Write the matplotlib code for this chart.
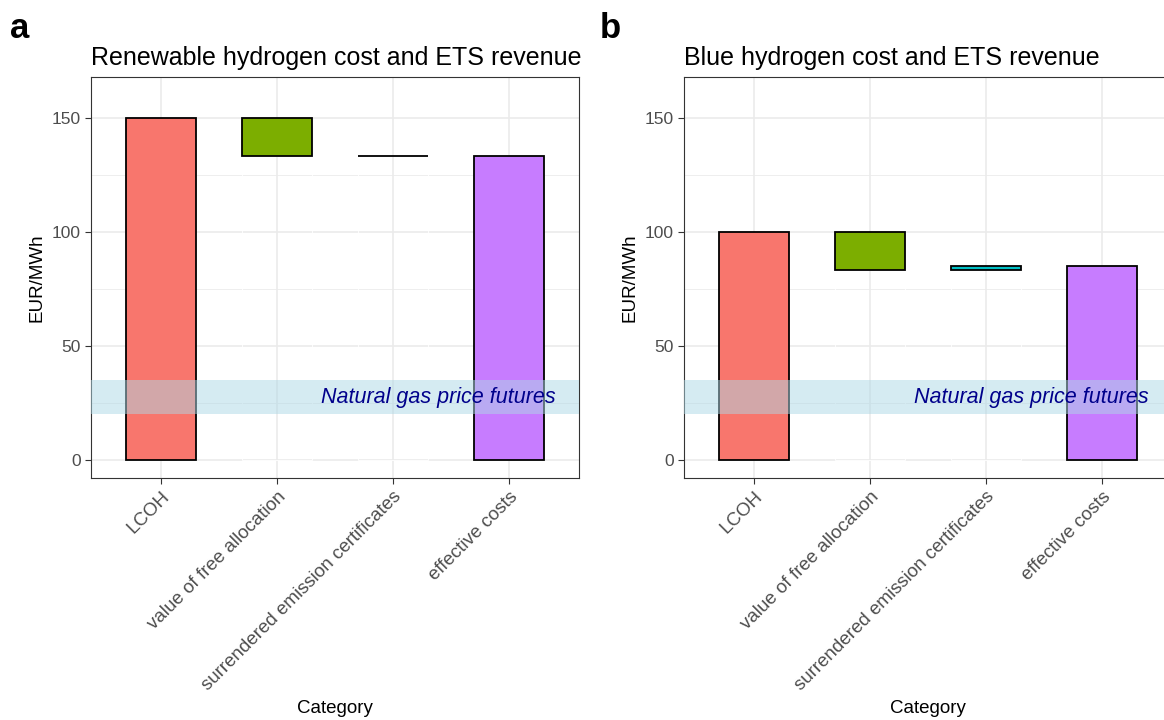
import numpy as np
import matplotlib.pyplot as plt

plt.rcParams['font.family'] = ['Liberation Sans', 'DejaVu Sans']

# waterfall data (EUR/MWh)
categories = ['LCOH', 'value of free allocation', 'surrendered emission certificates', 'effective costs']
colors = ['#F8766D', '#7CAE00', '#00BFC4', '#C77CFF']

renew_start = [0, 133.4, 133.4, 0]
renew_end = [150, 150, 133.4, 133.4]

blue_start = [0, 83.4, 83.4, 0]
blue_end = [100, 100, 85.0, 85.0]

gas_low, gas_high = 20, 35

W, H = 1164, 720
fig = plt.figure(figsize=(W / 100, H / 100), dpi=100)


def panel(left, starts, ends, title, letter, letter_x):
    ax = fig.add_axes([left / W, (H - 478) / H, 488 / W, 401 / H])
    x = np.arange(len(categories))
    lo = np.minimum(starts, ends)
    hi = np.maximum(starts, ends)

    # gridlines (ggplot theme_bw look)
    for y in [25, 75, 125]:
        ax.axhline(y, color='#EBEBEB', lw=0.6, zorder=0)
    for y in [0, 50, 100, 150]:
        ax.axhline(y, color='#EBEBEB', lw=1.2, zorder=0)
    for xi in x:
        ax.axvline(xi, color='#EBEBEB', lw=1.2, zorder=0)

    # invisible base of the floating bars
    ax.bar(x, lo, width=0.6, bottom=0, facecolor='none', edgecolor='white', lw=0.6, zorder=1)
    ax.bar(x, hi - lo, width=0.6, bottom=lo, color=colors, edgecolor='black', lw=1.3, zorder=2)

    ax.axhspan(gas_low, gas_high, color='lightblue', alpha=0.5, lw=0, zorder=3)
    ax.text(3.4, (gas_low + gas_high) / 2, 'Natural gas price futures', color='darkblue',
            style='italic', ha='right', va='center', fontsize=15.5, zorder=4)

    ax.set_xlim(-0.6, 3.6)
    ax.set_ylim(-8, 168)
    ax.set_xticks(x)
    ax.set_xticklabels(categories, rotation=45, ha='right', rotation_mode='anchor',
                       fontsize=13.5, color='#4D4D4D')
    ax.set_yticks([0, 50, 100, 150])
    ax.tick_params(axis='y', labelsize=12.5, labelcolor='#4D4D4D')
    ax.tick_params(length=4.5, width=0.8, color='#333333', pad=3)
    for s in ax.spines.values():
        s.set_color('#333333')
        s.set_linewidth(0.8)
    ax.set_ylabel('EUR/MWh', fontsize=13.5, labelpad=4)
    ax.set_xlabel('Category', fontsize=13.5, labelpad=4)
    ax.set_title(title, loc='left', fontsize=18, pad=9)
    fig.text(letter_x / W, 1 - 28 / H, letter, fontsize=25, fontweight='bold', va='center', ha='left')
    return ax


panel(91, renew_start, renew_end, 'Renewable hydrogen cost and ETS revenue', 'a', 10)
panel(684, blue_start, blue_end, 'Blue hydrogen cost and ETS revenue', 'b', 600)

fig.savefig('out.png', dpi=100)
